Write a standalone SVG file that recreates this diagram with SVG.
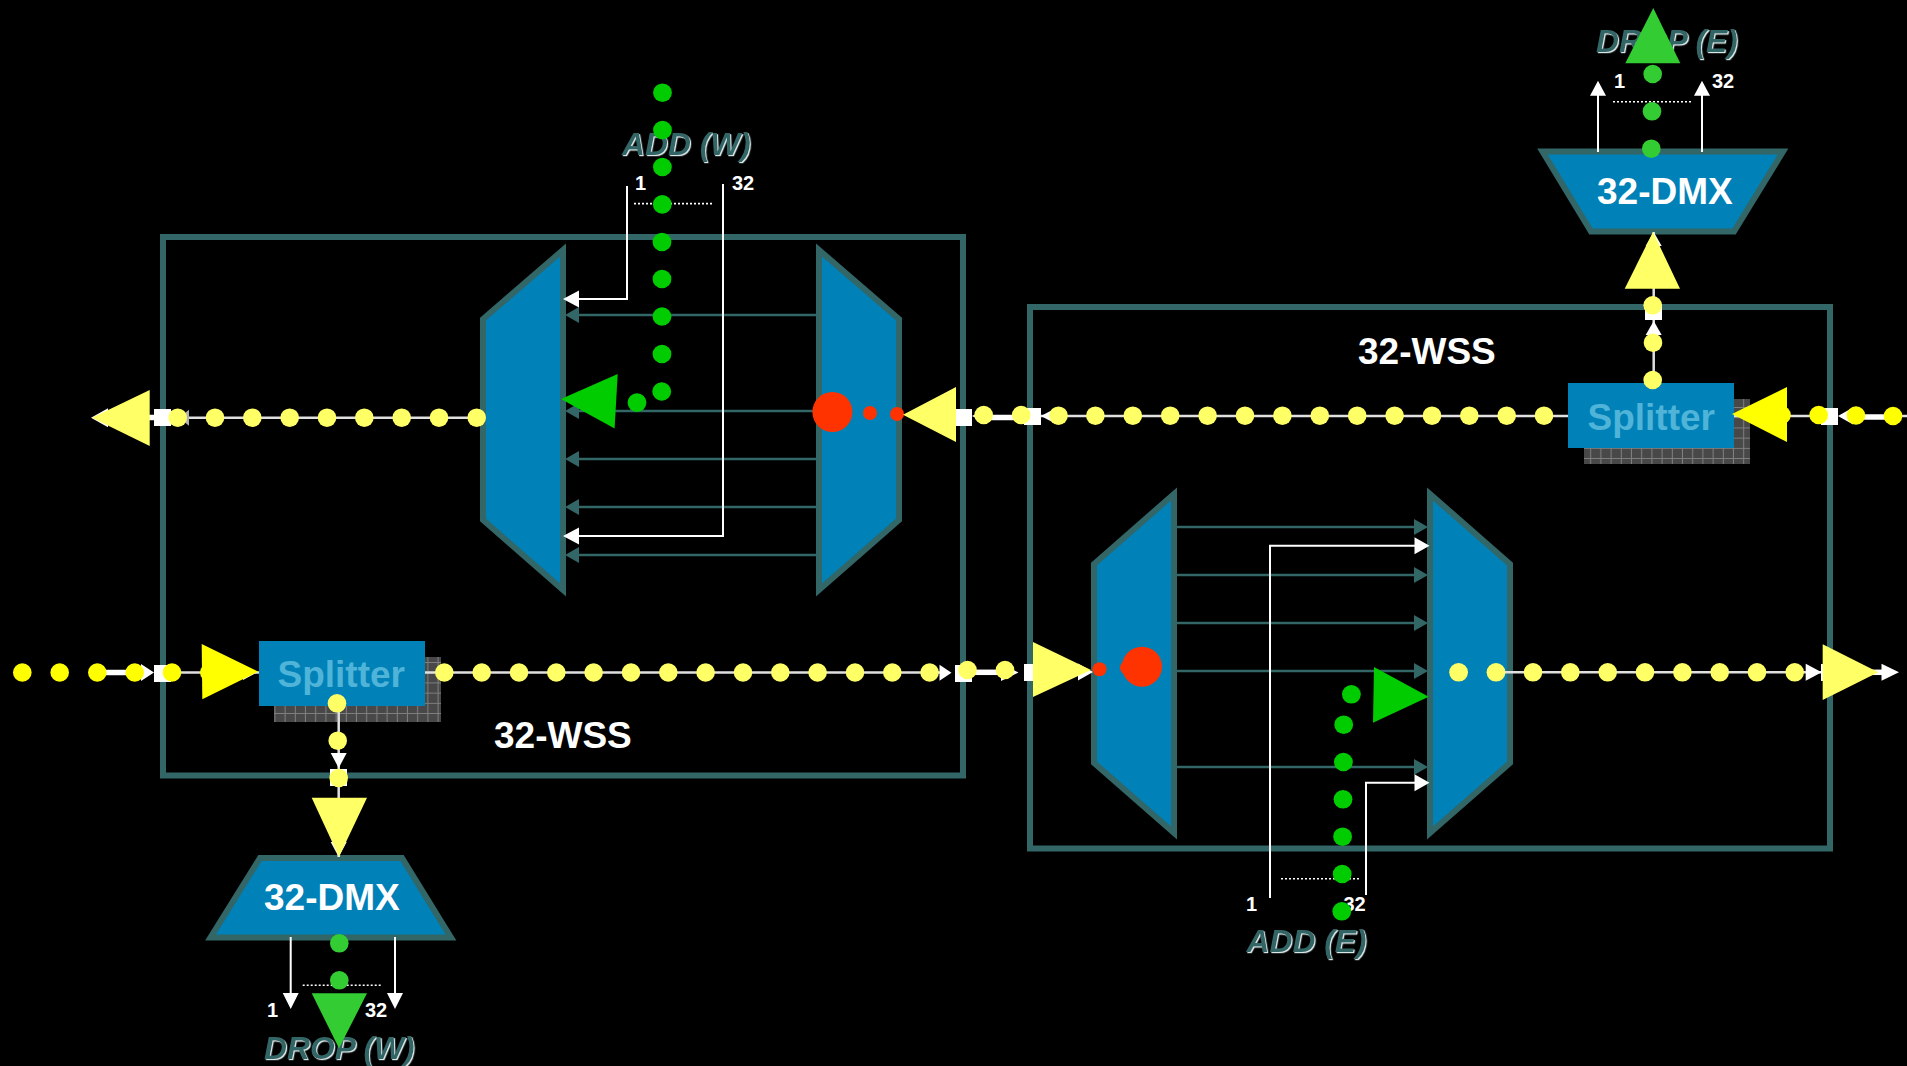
<svg xmlns="http://www.w3.org/2000/svg" width="1907" height="1066" viewBox="0 0 1907 1066">
<style>
text{font-family:"Liberation Sans",Arial,sans-serif;font-weight:bold}
.box{fill:none;stroke:#336666;stroke-width:6}
.mux{fill:#0081b8;stroke:#336666;stroke-width:6;stroke-miterlimit:10}
.split{fill:#0081b8}
.shade{fill:url(#grid)}
.st{fill:#4fb4d8;font-size:37px}
.dmx{fill:#fff;font-size:37px}
.wss{fill:#fff;font-size:37px}
.num{fill:#fff;font-size:20px}
.side{fill:#336666;font-size:31.800px;font-style:italic;filter:url(#rim)}
.w{fill:none;stroke:#fff;stroke-width:2}
.w2{fill:none;stroke:#e0e0e0;stroke-width:2.5}
.thick{fill:none;stroke:#fff;stroke-width:5.5}
.teal{fill:none;stroke:#336666;stroke-width:2.5}
.dash{fill:none;stroke:#fff;stroke-width:1.6;stroke-dasharray:2 2}
.hw{fill:#fff}.ht{fill:#336666}.sq{fill:#fff}
.y{fill:#ffff66}.Y{fill:#ffff00}.g{fill:#00cc00}.G{fill:#33cc33}.r{fill:#ff3300}
</style>
<defs>
<pattern id="grid" width="10.2" height="10.2" patternUnits="userSpaceOnUse">
<rect width="10.2" height="10.2" fill="#484848"/>
<path d="M9.7 0V10.2M0 9.7H10.2" stroke="#808080" stroke-width="1" fill="none"/>
</pattern>
<filter id="rim" x="-5%" y="-10%" width="110%" height="125%">
<feDropShadow dx="1.2" dy="1.2" stdDeviation="0.3" flood-color="#d8e8e8"/>
</filter>
</defs>
<rect width="1907" height="1066" fill="#000"/>

<g id="wss-west-frame"><rect class="box" x="163" y="237" width="800" height="538.500"/><text class="wss" x="494" y="748">32-WSS</text></g>
<g id="wss-east-frame"><rect class="box" x="1030" y="307" width="800" height="541.500"/><text class="wss" x="1358" y="363.500">32-WSS</text></g>

<g id="mux-west-left"><polygon class="mux" points="563,250 483,319 483,520 563,590"/></g>
<g id="mux-west-right"><polygon class="mux" points="819,250 899,319 899,520 819,590"/></g>
<g id="mux-east-left"><polygon class="mux" points="1174,494 1094,564 1094,763 1174,833"/></g>
<g id="mux-east-right"><polygon class="mux" points="1430,494 1510,564 1510,763 1430,833"/></g>

<g id="splitter-west"><rect class="shade" x="274" y="657" width="167" height="65"/><rect class="split" x="259" y="641" width="166" height="65"/><text class="st" x="277.500" y="687">Splitter</text></g>
<g id="splitter-east"><rect class="shade" x="1584" y="399" width="166" height="65"/><rect class="split" x="1568" y="383" width="166" height="65"/><text class="st" x="1587.500" y="430">Splitter</text></g>

<g id="dmx-west"><polygon class="mux" points="260,858 402,858 451,937.500 210.500,937.500"/><text class="dmx" x="264" y="909.500">32-DMX</text></g>
<g id="dmx-east"><polygon class="mux" points="1542.500,151.500 1783,151.500 1734,231.500 1591,231.500"/><text class="dmx" x="1597" y="203.500">32-DMX</text></g>

<g id="label-add-w"><text class="side" x="622" y="154.500">ADD (W)</text><text class="num" x="635" y="190">1</text><text class="num" x="732" y="190">32</text></g>
<g id="label-add-e"><text class="side" x="1246.500" y="951.500">ADD (E)</text><text class="num" x="1246" y="911">1</text><text class="num" x="1343.500" y="911">32</text></g>
<g id="label-drop-w"><text class="side" x="264" y="1059">DROP (W)</text><text class="num" x="267" y="1017">1</text><text class="num" x="365" y="1017">32</text></g>
<g id="label-drop-e"><text class="side" x="1596" y="52">DROP (E)</text><text class="num" x="1614" y="88">1</text><text class="num" x="1712" y="88">32</text></g>

<g id="connectors">
<path class="teal" d="M819 315H575M819 411H575M819 459H575M819 507H575M819 555H575"/>
<path class="ht" d="M565 315l14-8v16zM565 411l14-8v16zM565 459l14-8v16zM565 507l14-8v16zM565 555l14-8v16z"/>
<path class="teal" d="M1176 527H1420M1176 575H1420M1176 623H1420M1176 671H1420M1176 767H1420"/>
<path class="ht" d="M1428 527l-14-8v16zM1428 575l-14-8v16zM1428 623l-14-8v16zM1428 671l-14-8v16zM1428 767l-14-8v16z"/>
<path class="w" d="M627 186V299H575"/><path class="w" d="M723 184V536H575"/>
<path class="hw" d="M563 299l16-8.500v17zM563 536l16-8.500v17z"/>
<path class="dash" d="M634 203.600H712.500"/>
<path class="w" d="M1270 898V545.700H1420"/><path class="w" d="M1366 895V782.700H1420"/>
<path class="hw" d="M1429.500 545.700l-15-8.500v17zM1429.500 782.700l-15-8.500v17z"/>
<path class="dash" d="M1281 878.700H1359"/>
<path class="w" d="M290.700 937V1000M395 937V1000"/>
<path class="hw" d="M290.700 1009l-8-16h16zM395 1009l-8-16h16z"/>
<path class="dash" d="M302.700 985.300H380.700"/>
<path class="w" d="M1598 152V90M1702 152V90"/>
<path class="hw" d="M1598 80.700l-8 15h16zM1702 80.700l-8 15h16z"/>
<path class="dash" d="M1613 101.700H1691.700"/>
<path class="w2" d="M185 417.700H480"/>
<path class="thick" d="M149 417.500H156"/>
<path class="hw" d="M91 417.700l17-9.500v19z"/>
<path d="M179 417.700l10-8v16z" fill="#b0b0b0"/>
<rect class="sq" x="154" y="409" width="17" height="17"/>
<path class="thick" d="M985 417.400H1022"/>
<path class="hw" d="M972 416l15-8v16z"/>
<rect class="sq" x="956" y="409" width="16" height="17"/>
<rect class="sq" x="1024" y="408" width="17" height="17"/>
<path class="w2" d="M1041 416H1568"/>
<path class="hw" d="M1041 416l16-8.500v17z"/>
<path class="w2" d="M1734 416H1822"/>
<path class="thick" d="M1860 417H1888"/>
<path class="w2" d="M1888 416H1907"/>
<path class="hw" d="M1838 416l15-8.500v17z"/>
<rect class="sq" x="1821" y="408" width="17" height="17"/>
<path class="w2" d="M1653.700 380V232"/>
<path class="hw" d="M1653.700 321l-8 14h16z"/>
<rect class="sq" x="1645" y="304" width="17" height="16"/>
<path class="hw" d="M1653.700 232l-8 14h16z"/>
<path class="thick" d="M100 672.500H128"/>
<path class="hw" d="M154 672.500l-13-8.500v17z"/>
<rect class="sq" x="154" y="665" width="17" height="17"/>
<path class="w2" d="M171 672.500H259"/>
<path class="hw" d="M258 672l-15 8v-3z"/>
<path class="w2" d="M425 672.500H945"/>
<path class="hw" d="M951.500 672.800l-12-8v16z"/>
<rect class="sq" x="955" y="665" width="17" height="17"/>
<path class="thick" d="M972 672.300H998"/>
<path class="hw" d="M1018.500 672.500l-17.500-8.500v17z"/>
<rect class="sq" x="1024" y="664" width="17" height="17"/>
<path class="hw" d="M1093 672l-15-8.500v17z"/>
<path class="w2" d="M338.700 703V857"/>
<path class="hw" d="M338.700 768l-8-15h16z"/>
<rect class="sq" x="330" y="769" width="17" height="17"/>
<path class="hw" d="M338.700 857l-8-15h16z"/>
<path class="w2" d="M1500 672.300H1822"/>
<path class="hw" d="M1821.700 672.300l-16-8.500v17z"/>
<rect class="sq" x="1821" y="664" width="3" height="17"/>
<path class="thick" d="M1870 672.300H1884"/>
<path class="hw" d="M1899 672.300l-17.500-8.500v17z"/>
</g>

<g id="signal-west-add">
<ellipse class="g" cx="662.500" cy="92.700" rx="9.400" ry="9.300"/><ellipse class="g" cx="662.500" cy="130" rx="9.400" ry="9.300"/><ellipse class="g" cx="662.400" cy="167" rx="9.400" ry="9.300"/><ellipse class="g" cx="662.300" cy="204.400" rx="9.400" ry="9.300"/><ellipse class="g" cx="662" cy="242" rx="9.400" ry="9.300"/><ellipse class="g" cx="662" cy="279" rx="9.400" ry="9.300"/><ellipse class="g" cx="662" cy="316.500" rx="9.400" ry="9.300"/><ellipse class="g" cx="662" cy="354" rx="9.400" ry="9.300"/><ellipse class="g" cx="661.700" cy="391.500" rx="9.400" ry="9.300"/><ellipse class="g" cx="637" cy="402.600" rx="9.400" ry="9.300"/>
<polygon class="g" points="561,399 617.700,374 614.600,428.500"/>
</g>
<g id="signal-east-add">
<ellipse class="g" cx="1351.400" cy="694.300" rx="9.400" ry="9.300"/><ellipse class="g" cx="1343.700" cy="724.700" rx="9.400" ry="9.300"/><ellipse class="g" cx="1343.400" cy="762" rx="9.400" ry="9.300"/><ellipse class="g" cx="1343" cy="799.300" rx="9.400" ry="9.300"/><ellipse class="g" cx="1342.600" cy="836.700" rx="9.400" ry="9.300"/><ellipse class="g" cx="1342.200" cy="874" rx="9.400" ry="9.300"/><ellipse class="g" cx="1341.800" cy="911.300" rx="9.400" ry="9.300"/>
<polygon class="g" points="1374,667 1373,722.700 1428.700,696.700"/>
</g>
<g id="signal-west-drop">
<circle class="G" cx="339.300" cy="943.300" r="9.300"/><circle class="G" cx="339.300" cy="980.300" r="9.300"/>
<polygon class="G" points="311.700,993.300 367,993.300 339,1048.300"/>
</g>
<g id="signal-east-drop">
<circle class="G" cx="1651.300" cy="148.700" r="9.300"/><circle class="G" cx="1652" cy="111.300" r="9.300"/><circle class="G" cx="1652.700" cy="74" r="9.300"/>
<polygon class="G" points="1653.300,8 1625.300,63.300 1680.300,63.300"/>
</g>
<g id="signal-red">
<circle class="r" cx="832.400" cy="412" r="20"/><circle class="r" cx="870" cy="413" r="7"/><circle class="r" cx="897" cy="414" r="7"/>
<circle class="r" cx="1127" cy="667.700" r="7"/><circle class="r" cx="1142" cy="666.700" r="20"/><circle class="r" cx="1099.600" cy="669.300" r="7"/>
</g>
<g id="signal-yellow">
<polygon class="y" points="92,417.700 149.700,390 149.700,446"/>
<circle class="y" cx="177.700" cy="417.700" r="9.300"/><circle class="y" cx="215" cy="417.700" r="9.300"/><circle class="y" cx="252.300" cy="417.700" r="9.300"/><circle class="y" cx="289.700" cy="417.700" r="9.300"/><circle class="y" cx="327" cy="417.700" r="9.300"/><circle class="y" cx="364.300" cy="417.700" r="9.300"/><circle class="y" cx="401.700" cy="417.700" r="9.300"/><circle class="y" cx="439" cy="417.700" r="9.300"/><circle class="y" cx="476.700" cy="417.700" r="9.300"/>
<polygon class="y" points="903,414.700 956,387 956,442"/>
<circle class="y" cx="983.700" cy="415" r="9.300"/><circle class="y" cx="1021.200" cy="415" r="9.300"/><circle class="y" cx="1058.500" cy="415.700" r="9.300"/><circle class="y" cx="1095.400" cy="415.700" r="9.300"/><circle class="y" cx="1132.800" cy="415.700" r="9.300"/><circle class="y" cx="1170.200" cy="415.700" r="9.300"/><circle class="y" cx="1207.600" cy="415.700" r="9.300"/><circle class="y" cx="1245" cy="415.700" r="9.300"/><circle class="y" cx="1282.400" cy="415.700" r="9.300"/><circle class="y" cx="1319.800" cy="415.700" r="9.300"/><circle class="y" cx="1357.200" cy="415.700" r="9.300"/><circle class="y" cx="1394.600" cy="415.700" r="9.300"/><circle class="y" cx="1432" cy="415.700" r="9.300"/><circle class="y" cx="1469.300" cy="415.700" r="9.300"/><circle class="y" cx="1506.700" cy="415.700" r="9.300"/><circle class="y" cx="1544" cy="415.700" r="9.300"/>
<circle class="Y" cx="1781.500" cy="415" r="9.300"/><polygon class="Y" points="1732,414 1787,387 1787,442"/>
<circle class="Y" cx="1818.700" cy="415" r="9.300"/><circle class="Y" cx="1856" cy="415.500" r="9.300"/><circle class="Y" cx="1893" cy="416" r="9.300"/>
<circle class="y" cx="1652.700" cy="380" r="9.300"/><circle class="y" cx="1653" cy="342.700" r="9.300"/><circle class="y" cx="1652.700" cy="305.300" r="9.300"/>
<polygon class="y" points="1653,232 1624.700,288.700 1680,288.700"/>
<circle class="Y" cx="22.300" cy="672.500" r="9.300"/><circle class="Y" cx="59.700" cy="672.500" r="9.300"/><circle class="Y" cx="97.300" cy="672.500" r="9.300"/><circle class="Y" cx="134.700" cy="672.500" r="9.300"/><circle class="Y" cx="172" cy="672.500" r="9.300"/><circle class="Y" cx="209.300" cy="672.500" r="9.300"/>
<polygon class="Y" points="201.700,644 202.300,699.300 258.300,671.700"/>
<circle class="y" cx="444.300" cy="672.500" r="9.300"/><circle class="y" cx="481.700" cy="672.500" r="9.300"/><circle class="y" cx="519" cy="672.500" r="9.300"/><circle class="y" cx="556.300" cy="672.500" r="9.300"/><circle class="y" cx="593.600" cy="672.500" r="9.300"/><circle class="y" cx="631" cy="672.500" r="9.300"/><circle class="y" cx="668.300" cy="672.500" r="9.300"/><circle class="y" cx="705.600" cy="672.500" r="9.300"/><circle class="y" cx="743" cy="672.500" r="9.300"/><circle class="y" cx="780.300" cy="672.500" r="9.300"/><circle class="y" cx="817.600" cy="672.500" r="9.300"/><circle class="y" cx="855" cy="672.500" r="9.300"/><circle class="y" cx="892.300" cy="672.500" r="9.300"/><circle class="y" cx="929.600" cy="672.500" r="9.300"/>
<circle class="y" cx="967.500" cy="670" r="9.300"/><circle class="y" cx="1005" cy="670" r="9.300"/>
<polygon class="y" points="1033,642 1033,697 1091,670"/>
<circle class="y" cx="337" cy="703.300" r="9.300"/><circle class="y" cx="337.700" cy="740.700" r="9.300"/><circle class="y" cx="338.700" cy="778" r="9.300"/>
<polygon class="y" points="311.700,797.700 367,797.700 339,856.700"/>
<ellipse class="y" cx="1458.600" cy="672.300" rx="9.400" ry="9.300"/><ellipse class="y" cx="1496" cy="672.300" rx="9.400" ry="9.300"/><circle class="y" cx="1533" cy="672.300" r="9.300"/><circle class="y" cx="1570.300" cy="672.300" r="9.300"/><circle class="y" cx="1607.700" cy="672.300" r="9.300"/><circle class="y" cx="1645" cy="672.300" r="9.300"/><circle class="y" cx="1682.400" cy="672.300" r="9.300"/><circle class="y" cx="1719.700" cy="672.300" r="9.300"/><circle class="y" cx="1757" cy="672.300" r="9.300"/><circle class="y" cx="1794.700" cy="672.300" r="9.300"/>
<polygon class="y" points="1822.700,644.300 1822.700,700 1878.300,672.300"/>
</g>
</svg>
